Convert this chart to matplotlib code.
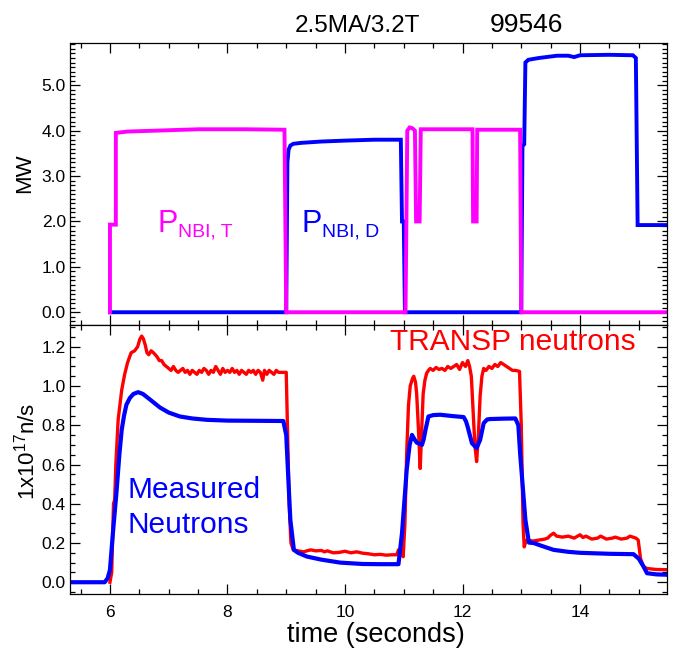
import matplotlib
matplotlib.use("Agg")
import matplotlib.pyplot as plt
from matplotlib import font_manager
from matplotlib.ticker import MultipleLocator, FormatStrFormatter
from matplotlib.transforms import offset_copy

plt.rcParams["font.family"] = "Liberation Sans"
plt.rcParams["mathtext.fontset"] = "custom"
plt.rcParams["mathtext.rm"] = "Liberation Sans"
plt.rcParams["mathtext.it"] = "Liberation Sans"

# ---- top panel: beam powers (MW) ----
nbi_d_t = [6.0, 9.0, 9.02, 9.04, 9.07, 9.12, 9.25, 9.6, 10.0, 10.5, 10.95, 10.97,
           11.0, 11.02, 13.0, 13.02, 13.05, 13.07, 13.12, 13.3, 13.61, 13.8, 13.9,
           14.0, 14.5, 14.9, 14.95, 14.98, 15.6]
nbi_d_mw = [0.0, 0.0, 3.3, 3.58, 3.67, 3.71, 3.73, 3.76, 3.78, 3.80, 3.80, 2.0,
            2.0, 0.0, 0.0, 3.66, 3.70, 5.50, 5.56, 5.60, 5.65, 5.65, 5.62,
            5.66, 5.67, 5.66, 5.60, 1.92, 1.92]

nbi_t_t = [6.0, 6.0, 6.1, 6.1, 6.3, 6.8, 7.5, 8.3, 8.97, 9.0, 11.03, 11.06, 11.1,
           11.15, 11.19, 11.21, 11.27, 11.29, 11.35, 12.17, 12.18, 12.24, 12.25,
           12.98, 13.0, 15.6]
nbi_t_mw = [0.0, 1.93, 1.93, 3.95, 3.98, 4.00, 4.03, 4.03, 4.02, 0.0, 0.0, 4.0, 4.07,
            4.05, 4.0, 2.0, 2.0, 4.03, 4.03, 4.03, 2.0, 2.0, 4.02,
            4.02, 0.0, 0.0]

# ---- bottom panel: neutron rates (1e17 n/s) ----
meas_t = [5.3, 5.91, 5.96, 6.0, 6.05, 6.11, 6.16, 6.2, 6.24, 6.28, 6.34, 6.4, 6.48,
          6.56, 6.65, 6.75, 6.85, 7.0, 7.19, 7.4, 7.65, 8.0, 8.5, 8.95, 9.0, 9.04,
          9.07, 9.13, 9.2, 9.35, 9.6, 9.92, 10.3, 10.6, 10.91, 10.97, 11.02, 11.05,
          11.1, 11.14, 11.18, 11.22, 11.31, 11.34, 11.37, 11.42, 11.5, 11.62, 11.8,
          12.02, 12.06, 12.09, 12.16, 12.24, 12.3, 12.36, 12.42, 12.47, 12.7, 12.9,
          12.95, 12.98, 13.07, 13.13, 13.21, 13.35, 13.55, 13.8, 14.0, 14.5, 14.91,
          15.0, 15.08, 15.14, 15.3, 15.6]
meas_n = [0.0, 0.0, 0.02, 0.063, 0.25, 0.455, 0.65, 0.777, 0.85, 0.905, 0.94, 0.96,
          0.969, 0.96, 0.939, 0.915, 0.891, 0.865, 0.845, 0.835, 0.828, 0.824, 0.823,
          0.822, 0.75, 0.5, 0.318, 0.165, 0.15, 0.131, 0.115, 0.1, 0.093, 0.092,
          0.092, 0.25, 0.45, 0.573, 0.70, 0.751, 0.73, 0.712, 0.70, 0.73, 0.777,
          0.845, 0.852, 0.854, 0.848, 0.842, 0.82, 0.79, 0.709, 0.684, 0.726, 0.811,
          0.83, 0.832, 0.834, 0.835, 0.80, 0.658, 0.318, 0.202, 0.2, 0.185, 0.165,
          0.155, 0.15, 0.145, 0.143, 0.12, 0.08, 0.046, 0.04, 0.037]

transp_t = [6.0, 6.03, 6.06, 6.08, 6.10, 6.14, 6.20, 6.25, 6.30, 6.36, 6.42, 6.47,
            6.51, 6.54, 6.57, 6.60, 6.63, 6.66, 6.70, 6.74, 6.77, 6.80, 6.84, 6.88,
            6.92, 6.96, 7.00, 7.04, 7.08, 7.12, 7.16, 7.20, 7.24, 7.28, 7.32, 7.36,
            7.40, 7.44, 7.48, 7.52, 7.56, 7.60, 7.64, 7.68, 7.72, 7.76, 7.80, 7.84,
            7.88, 7.92, 7.96, 8.00, 8.04, 8.08, 8.12, 8.16, 8.20, 8.24, 8.28, 8.32,
            8.36, 8.40, 8.44, 8.48, 8.52, 8.56, 8.60, 8.63, 8.67, 8.71, 8.75, 8.79,
            8.83, 8.87, 8.91, 8.96, 9.00, 9.02, 9.05, 9.08, 9.12, 9.2, 9.3, 9.35,
            9.42, 9.5, 9.6, 9.65, 9.7, 9.8, 9.9, 10.0, 10.1, 10.2, 10.3, 10.4, 10.5,
            10.6, 10.7, 10.8, 10.88, 10.91, 10.95, 10.99, 11.02, 11.05, 11.08, 11.11,
            11.15, 11.17, 11.20, 11.22, 11.25, 11.28, 11.31, 11.33, 11.36, 11.39,
            11.42, 11.45, 11.5, 11.55, 11.6, 11.65, 11.7, 11.75, 11.8, 11.85, 11.9,
            11.95, 12.0, 12.05, 12.09, 12.12, 12.15, 12.18, 12.21, 12.24, 12.27,
            12.30, 12.33, 12.36, 12.4, 12.45, 12.5, 12.55, 12.6, 12.65, 12.7, 12.75,
            12.8, 12.85, 12.9, 12.97, 13.0, 13.03, 13.05, 13.08, 13.1, 13.2, 13.3,
            13.4, 13.45, 13.5, 13.55, 13.6, 13.7, 13.8, 13.9, 14.0, 14.05, 14.1, 14.2,
            14.3, 14.35, 14.45, 14.55, 14.6, 14.7, 14.8, 14.85, 14.95, 14.99, 15.03,
            15.08, 15.14, 15.3, 15.6]
transp_n = [0.0, 0.05, 0.40, 0.42, 0.60, 0.83, 0.98, 1.06, 1.12, 1.17, 1.18, 1.20,
            1.24, 1.255, 1.24, 1.21, 1.17, 1.16, 1.18, 1.17, 1.16, 1.15, 1.13, 1.13,
            1.11, 1.10, 1.09, 1.08, 1.10, 1.08, 1.07, 1.08, 1.09, 1.07, 1.08, 1.06,
            1.08, 1.07, 1.06, 1.08, 1.07, 1.09, 1.08, 1.06, 1.08, 1.07, 1.10, 1.08,
            1.06, 1.09, 1.07, 1.08, 1.07, 1.09, 1.07, 1.08, 1.06, 1.08, 1.07, 1.06,
            1.08, 1.07, 1.08, 1.06, 1.08, 1.07, 1.03, 1.08, 1.06, 1.08, 1.07, 1.06,
            1.08, 1.07, 1.07, 1.07, 1.07, 0.80, 0.40, 0.20, 0.165, 0.16, 0.155, 0.16,
            0.165, 0.16, 0.162, 0.155, 0.16, 0.15, 0.152, 0.158, 0.15, 0.155, 0.148,
            0.145, 0.14, 0.142, 0.138, 0.14, 0.14, 0.165, 0.16, 0.13, 0.30, 0.66,
            0.90, 1.00, 1.04, 1.05, 1.02, 0.96, 0.78, 0.58, 0.80, 0.96, 1.03, 1.066,
            1.08, 1.09, 1.08, 1.095, 1.085, 1.09, 1.08, 1.10, 1.09, 1.10, 1.11, 1.085,
            1.12, 1.10, 1.13, 1.10, 1.05, 0.88, 0.70, 0.615, 0.75, 0.95, 1.05, 1.09,
            1.08, 1.10, 1.09, 1.11, 1.10, 1.12, 1.11, 1.10, 1.09, 1.08, 1.08, 1.075,
            0.80, 0.30, 0.18, 0.21, 0.215, 0.21, 0.215, 0.22, 0.225, 0.24, 0.25, 0.235,
            0.23, 0.235, 0.225, 0.242, 0.228, 0.235, 0.22, 0.225, 0.235, 0.22, 0.225,
            0.23, 0.22, 0.225, 0.235, 0.225, 0.215, 0.12, 0.08, 0.07, 0.065, 0.063]

# ---- figure ----
W, H = 678, 650
fig = plt.figure(figsize=(W / 100, H / 100), dpi=100)
ax1 = fig.add_axes([70 / W, 1 - 324.5 / H, 597 / W, 281.5 / H])
ax2 = fig.add_axes([70 / W, 1 - 594 / H, 597 / W, 269.5 / H], sharex=ax1)

ax1.plot(nbi_d_t, nbi_d_mw, color="#0000ff", lw=2.8, solid_joinstyle="miter")
ax1.plot(nbi_t_t, nbi_t_mw, color="#ff00ff", lw=2.8, solid_joinstyle="miter")
ax2.plot(transp_t, transp_n, color="#ff0000", lw=2.4)
ax2.plot(meas_t, meas_n, color="#0000ff", lw=3.0)

ax1.set_xlim(5.32, 15.48)
ax1.set_ylim(-0.27, 5.93)
ax2.set_ylim(-0.06, 1.314)

for ax in (ax1, ax2):
    ax.tick_params(which="both", direction="in", top=True, right=True,
                   labelsize=12.5, width=0.9)
    ax.tick_params(which="major", length=7)
    ax.tick_params(which="minor", length=3.5)
    ax.tick_params(axis="y", pad=3)
    for s in ax.spines.values():
        s.set_linewidth(0.9)
ax1.tick_params(axis="x", labelbottom=False)
ax2.tick_params(axis="x", pad=8)

ax1.xaxis.set_major_locator(MultipleLocator(2))
ax1.xaxis.set_minor_locator(MultipleLocator(0.5))
ax1.yaxis.set_major_locator(MultipleLocator(1))
ax1.yaxis.set_minor_locator(MultipleLocator(0.1))
ax1.yaxis.set_major_formatter(FormatStrFormatter("%.1f"))
ax2.yaxis.set_major_locator(MultipleLocator(0.2))
ax2.yaxis.set_minor_locator(MultipleLocator(0.05))
ax2.yaxis.set_major_formatter(FormatStrFormatter("%.1f"))

ax1.set_ylabel("MW", fontsize=16, va="center")
ax1.yaxis.set_label_coords(-0.0754, 0.536)
ax2.set_ylabel(r"1x10$^{17}$n/s", fontsize=16, va="center")
ax2.yaxis.set_label_coords(-0.0729, 0.528)
ax2.set_xlabel("time (seconds)", fontsize=19.5, va="baseline")
ax2.xaxis.set_label_coords(0.5126, -0.177)

# beam labels: big P plus small subscript
big, small = 22, 14
for x, txt, col in [(6.81, "NBI, T", "#ff00ff"), (9.254, "NBI, D", "#0000ff")]:
    ax1.text(x, 1.774, "P", color=col, fontsize=big, va="baseline", ha="left")
    tr = offset_copy(ax1.transData, fig=fig, x=0.667 * big, y=-3.1, units="points")
    ax1.text(x, 1.774, txt, color=col, fontsize=small, va="baseline", ha="left",
             transform=tr)

ax2.text(6.30, 0.429, "Measured", color="#0000ff", fontsize=21.5, va="baseline")
ax2.text(6.30, 0.25, "Neutrons", color="#0000ff", fontsize=21.5, va="baseline")
ax2.text(10.76, 1.185, "TRANSP neutrons", color="#ff0000", fontsize=21.5,
         va="baseline")

# header texts
names = {f.name for f in font_manager.fontManager.ttflist}
if "Liberation Sans Narrow" in names:
    fig.text(357.5 / W, 1 - 31.7 / H, "2.5MA/3.2T", fontsize=20, ha="center",
             va="baseline", family="Liberation Sans Narrow")
else:
    fig.text(357.5 / W, 1 - 31.7 / H, "2.5MA/3.2T", fontsize=17.5, ha="center",
             va="baseline")
fig.text(526.5 / W, 1 - 31.7 / H, "99546", fontsize=19, ha="center", va="baseline")

fig.savefig("out.png", dpi=100)
